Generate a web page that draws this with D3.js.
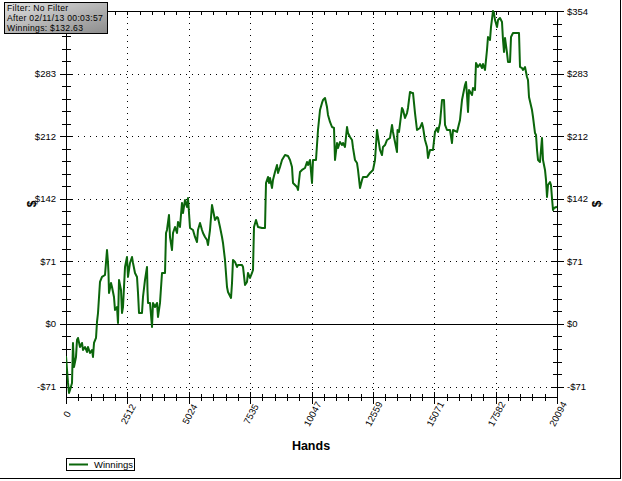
<!DOCTYPE html>
<html><head><meta charset="utf-8">
<script src="https://cdn.jsdelivr.net/npm/d3@7"></script>
<style>body{margin:0;background:#fff}svg{display:block;font-family:"Liberation Sans",Arial,sans-serif}</style>
</head><body><svg id="c" width="622" height="481"></svg>
<script>
const hands = [0,41,82,123,164,246,286,327,409,450,491,573,655,696,778,859,900,982,1064,1105,1146,1228,1269,1310,1391,1473,1596,1678,1719,1739,1760,1842,1883,1964,2005,2087,2128,2169,2251,2292,2333,2415,2496,2537,2619,2701,2742,2824,2906,2947,2988,3110,3151,3233,3315,3335,3356,3438,3520,3560,3642,3724,3765,3847,3929,4052,4093,4133,4215,4256,4338,4379,4461,4543,4584,4665,4747,4788,4870,4952,4993,5075,5197,5279,5361,5402,5484,5566,5607,5689,5770,5811,5893,5975,6016,6098,6180,6221,6302,6384,6425,6507,6589,6630,6753,6794,6834,6916,6998,7039,7203,7244,7326,7407,7448,7530,7612,7653,7694,7776,7858,8021,8144,8185,8267,8308,8349,8431,8471,8553,8635,8676,8758,8840,8963,9085,9167,9249,9290,9372,9454,9495,9576,9658,9781,9863,9904,9986,10068,10108,10231,10313,10395,10477,10518,10600,10681,10722,10804,10886,10968,11009,11091,11132,11213,11295,11336,11418,11500,11541,11623,11705,11746,11827,11909,11950,12032,12114,12155,12318,12441,12564,12646,12728,12769,12850,12932,12973,13055,13137,13260,13342,13382,13464,13546,13567,13628,13751,13792,13874,13955,13996,14078,14160,14201,14283,14365,14487,14569,14610,14692,14774,14815,14897,15019,15101,15183,15224,15306,15388,15470,15511,15592,15715,15797,15838,16002,16043,16124,16206,16247,16329,16370,16411,16452,16493,16616,16656,16738,16779,16861,16943,17025,17066,17148,17229,17270,17352,17393,17475,17516,17557,17639,17680,17761,17843,17884,17925,17966,18048,18089,18171,18212,18293,18457,18539,18580,18662,18703,18785,18866,18907,18948,19071,19112,19194,19235,19276,19317,19398,19480,19521,19603,19644,19685,19726,19807,19848,19889,19930,19971,20094];
const winnings = [-36.2,-52.0,-66.7,-78.0,-74.6,-66.7,-21.5,-48.6,-37.3,-18.1,-15.8,-26.0,-21.5,-29.4,-26.0,-31.7,-26.0,-32.8,-29.4,-37.3,-21.5,-15.8,2.3,12.4,47.5,53.2,55.4,83.7,69.0,57.7,35.1,46.4,41.8,30.5,15.8,19.2,1.1,49.8,38.5,12.4,19.2,64.5,75.8,53.2,69.0,75.8,69.0,57.7,53.2,35.1,12.4,12.4,30.5,49.8,64.5,38.5,23.8,23.8,-3.4,23.8,19.2,23.8,7.9,23.8,57.7,57.7,102.9,106.3,123.3,98.4,83.7,102.9,109.7,102.9,115.4,109.7,136.9,125.5,140.2,132.3,142.5,108.6,106.3,98.4,92.7,106.3,114.2,106.3,102.9,98.4,95.0,89.3,106.3,134.6,128.9,117.6,121.0,119.9,109.7,98.4,91.6,72.4,41.8,36.2,29.4,46.4,72.4,70.1,64.5,66.7,66.7,64.5,44.1,47.5,57.7,52.0,57.7,61.1,109.7,117.6,109.7,108.6,108.6,159.5,166.3,159.5,165.1,153.8,162.9,171.9,179.8,170.8,177.6,185.5,191.1,190.0,185.5,177.6,159.5,157.2,154.9,151.6,171.9,174.2,176.4,183.2,179.8,185.5,159.5,185.5,185.5,219.4,242.0,250.0,253.3,255.6,245.4,236.4,228.5,222.8,221.7,185.5,204.7,199.1,205.8,202.4,204.7,200.2,222.8,216.0,211.5,208.1,199.1,185.5,182.1,174.2,153.8,162.9,166.3,166.3,170.8,174.2,185.5,219.4,211.5,196.8,191.1,200.2,202.4,208.1,210.4,225.1,217.2,205.8,194.5,219.4,217.2,244.3,242.0,233.0,238.6,244.3,262.4,261.3,261.3,238.6,219.4,221.7,227.3,222.8,208.1,200.2,187.7,196.8,196.8,217.2,221.7,217.2,227.3,253.3,253.3,225.1,219.4,219.4,204.7,219.4,217.2,221.7,230.7,253.3,259.0,270.3,273.7,259.0,239.8,264.7,259.0,266.9,264.7,295.2,290.7,294.1,289.5,294.1,287.3,309.9,324.6,321.2,335.9,354.0,351.7,343.8,335.9,343.8,346.1,341.6,321.2,307.6,323.5,306.5,296.3,296.3,324.6,329.1,329.1,329.1,290.7,289.5,287.3,290.7,279.4,276.0,256.7,242.0,234.1,216.0,213.8,196.8,185.5,183.2,210.4,185.5,174.2,162.9,143.6,157.2,160.6,157.2,142.5,128.9,131.2,132.63];
const xTickLabels = ["0","2512","5024","7535","10047","12559","15071","17582","20094"];
const yTickLabels = ["-$71","$0","$71","$142","$212","$283","$354"];
const infoLines = ["Filter: No Filter","After 02/11/13 00:03:57","Winnings: $132.63"];
const seriesName = "Winnings";
const xMax = 20094, yMin = -82.6, yMax = 354;

const svg = d3.select("#c");
const L = 66, R = 557, T = 11, B = 397;
const x = d3.scaleLinear().domain([0, xMax]).range([L, R]);
const y = d3.scaleLinear().domain([yMin, yMax]).range([B, T]);
const xMajor = d3.range(0, 9).map(i => i * xMax / 8);
const yStep = yMax / 5;
const yMajor = d3.range(-1, 6).map(i => i * yStep);
const xMinor = d3.range(0, 41).map(i => i * xMax / 40);
const yMinor = d3.range(-5, 26).map(i => i * yStep / 5).filter(v => v >= yMin - 0.01 && v <= yMax + 0.01);

// window border (right & bottom)
svg.append("line").attr("x1",620.5).attr("x2",620.5).attr("y1",0).attr("y2",479).attr("stroke","#000");
svg.append("line").attr("x1",0).attr("x2",621).attr("y1",478.5).attr("y2",478.5).attr("stroke","#000");

// grid
const g = svg.append("g");
g.selectAll(".gx").data(xMajor.slice(1, -1)).join("line")
  .attr("x1", d => Math.round(x(d)) + 0.5).attr("x2", d => Math.round(x(d)) + 0.5)
  .attr("y1", T).attr("y2", B).attr("stroke", "#000").attr("stroke-dasharray", "1,5");
g.selectAll(".gy").data(yMajor.filter(v => v !== 0 && v < yMax - 1)).join("line")
  .attr("y1", d => Math.round(y(d)) + 0.5).attr("y2", d => Math.round(y(d)) + 0.5)
  .attr("x1", L).attr("x2", R).attr("stroke", "#000").attr("stroke-dasharray", "1,5");
g.append("line").attr("x1", L).attr("x2", R).attr("y1", Math.round(y(0)) + 0.5).attr("y2", Math.round(y(0)) + 0.5).attr("stroke", "#000");

// axes frame
const ax = svg.append("g").attr("stroke", "#000").attr("shape-rendering", "crispEdges");
ax.append("line").attr("x1", L + 0.5).attr("x2", L + 0.5).attr("y1", T).attr("y2", B + 1);
ax.append("line").attr("x1", R + 0.5).attr("x2", R + 0.5).attr("y1", T).attr("y2", B + 1);
ax.append("line").attr("x1", L).attr("x2", R + 1).attr("y1", T + 0.5).attr("y2", T + 0.5);
ax.append("line").attr("x1", L).attr("x2", R + 1).attr("y1", B + 0.5).attr("y2", B + 0.5);
[L, R].forEach(ax0 => {
  ax.selectAll(null).data(yMinor).join("line")
    .attr("x1", ax0 - 4).attr("x2", ax0 + 5)
    .attr("y1", d => Math.round(y(d)) + 0.5).attr("y2", d => Math.round(y(d)) + 0.5);
  ax.selectAll(null).data(yMajor).join("line")
    .attr("x1", ax0 - 6).attr("x2", ax0 + 7)
    .attr("y1", d => Math.round(y(d)) + 0.5).attr("y2", d => Math.round(y(d)) + 0.5);
});
ax.selectAll(null).data(xMinor).join("line")
  .attr("x1", d => Math.round(x(d)) + 0.5).attr("x2", d => Math.round(x(d)) + 0.5)
  .attr("y1", B - 3).attr("y2", B + 4);
ax.selectAll(null).data(xMajor).join("line")
  .attr("x1", d => Math.round(x(d)) + 0.5).attr("x2", d => Math.round(x(d)) + 0.5)
  .attr("y1", B - 5).attr("y2", B + 7);
ax.selectAll(null).data(xMinor).join("line")
  .attr("x1", d => Math.round(x(d)) + 0.5).attr("x2", d => Math.round(x(d)) + 0.5)
  .attr("y1", T).attr("y2", T + 4);

// y labels (left top label is hidden under the info box in the reference)
const lab = svg.append("g").attr("font-size", "9.5px").attr("fill", "#000");
lab.selectAll(null).data(yMajor.slice(0, -1)).join("text")
  .attr("x", L - 10).attr("y", d => y(d) + 3.5).attr("text-anchor", "end")
  .text((d, i) => yTickLabels[i]);
lab.selectAll(null).data(yMajor).join("text")
  .attr("x", R + 10).attr("y", d => y(d) + 3.5).attr("text-anchor", "start")
  .text((d, i) => yTickLabels[i]);
lab.selectAll(null).data(xMajor).join("text")
  .attr("text-anchor", "middle")
  .attr("transform", d => `translate(${x(d) + 1},${B + 17}) rotate(-62)`)
  .attr("dy", "0.35em")
  .text((d, i) => xTickLabels[i]);

// axis titles
svg.append("text").attr("x", 311).attr("y", 450).attr("text-anchor", "middle")
  .attr("font-size", "12.5px").attr("font-weight", "bold").text("Hands");
svg.append("text").attr("transform", "translate(36,204) rotate(-90)").attr("text-anchor", "middle")
  .attr("font-size", "12px").attr("font-weight", "bold").text("$");
svg.append("text").attr("transform", "translate(601,204) rotate(-90)").attr("text-anchor", "middle")
  .attr("font-size", "12px").attr("font-weight", "bold").text("$");

// series line
svg.append("defs").append("clipPath").attr("id", "clip").append("rect")
  .attr("x", L).attr("y", T - 1).attr("width", R - L + 1).attr("height", B - T + 2);
const pts = hands.map((h, i) => [h, winnings[i]]);
svg.append("path").datum(pts).attr("clip-path", "url(#clip)")
  .attr("fill", "none").attr("stroke", "#0b660b").attr("stroke-width", 2)
  .attr("stroke-linejoin", "round")
  .attr("d", d3.line().x(d => x(d[0])).y(d => y(d[1])));

// info box
const grad = svg.select("defs").append("linearGradient").attr("id", "gb")
  .attr("x1", "0").attr("y1", "0").attr("x2", "1").attr("y2", "1");
grad.append("stop").attr("offset", "0").attr("stop-color", "#e0e0e0");
grad.append("stop").attr("offset", "1").attr("stop-color", "#8c8c8c");
svg.append("rect").attr("x", 4.5).attr("y", 2.5).attr("width", 103).attr("height", 31)
  .attr("fill", "url(#gb)").attr("stroke", "#000");
svg.append("g").attr("font-size", "8.6px").attr("letter-spacing", "0.3px")
  .selectAll("text").data(infoLines).join("text")
  .attr("x", 7).attr("y", (d, i) => 10.5 + i * 10.3).text(d => d);

// legend
svg.append("rect").attr("x", 66.5).attr("y", 458.5).attr("width", 68).attr("height", 12)
  .attr("fill", "#fff").attr("stroke", "#000");
svg.append("line").attr("x1", 69).attr("x2", 88).attr("y1", 464.5).attr("y2", 464.5)
  .attr("stroke", "#0b660b").attr("stroke-width", 2);
svg.append("text").attr("x", 94).attr("y", 468).attr("font-size", "9.5px").text(seriesName);
</script></body></html>
